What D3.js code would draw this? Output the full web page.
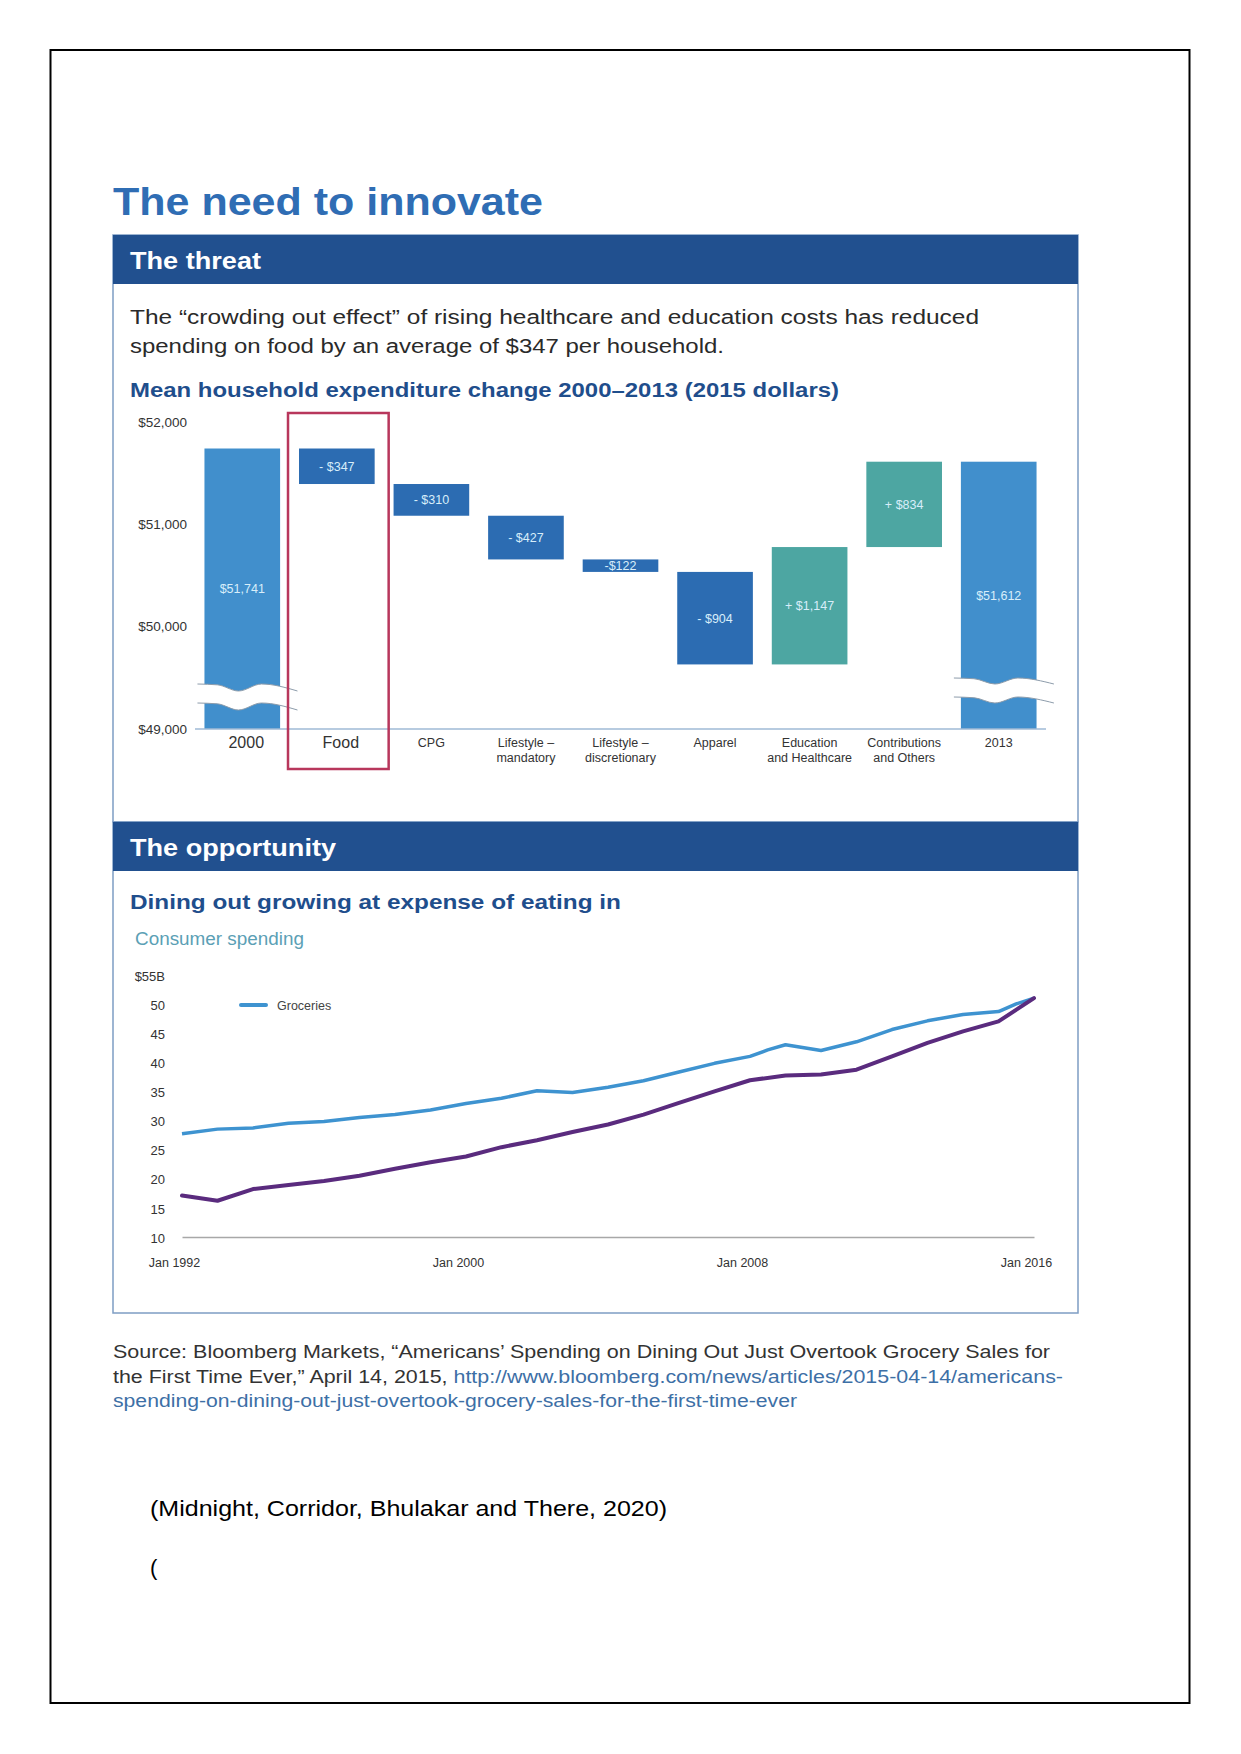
<!DOCTYPE html>
<html><head><meta charset="utf-8">
<script src="https://cdn.jsdelivr.net/npm/d3@7"></script>
<style>body{margin:0;background:#fff} svg{display:block}</style>
</head><body>
<svg id="c" width="1241" height="1754"></svg>
<script>
// ---------- DATA ----------
const categories = ["2000", "Food", "CPG", "Lifestyle – mandatory", "Lifestyle – discretionary", "Apparel", "Education and Healthcare", "Contributions and Others", "2013"];
const categoryLines = [["2000"], ["Food"], ["CPG"], ["Lifestyle –", "mandatory"], ["Lifestyle –", "discretionary"], ["Apparel"], ["Education", "and Healthcare"], ["Contributions", "and Others"], ["2013"]];
const barKinds = ["total", "delta", "delta", "delta", "delta", "delta", "delta", "delta", "total"];
const barValues = [51741, -347, -310, -427, -122, -904, 1147, 834, 51612];
const barLabels = ["$51,741", "- $347", "- $310", "- $427", "-$122", "- $904", "+ $1,147", "+ $834", "$51,612"];
const expenditureTicks = [49000, 50000, 51000, 52000];
const expenditureTickLabels = ["$49,000", "$50,000", "$51,000", "$52,000"];

const spendTicks = [10, 15, 20, 25, 30, 35, 40, 45, 50, 55];
const spendTickLabels = ["10", "15", "20", "25", "30", "35", "40", "45", "50", "$55B"];
const dateTicks = [1992, 2000, 2008, 2016];
const dateTickLabels = ["Jan 1992", "Jan 2000", "Jan 2008", "Jan 2016"];

const groceryYears = [1992, 1993, 1994, 1995, 1996, 1997, 1998, 1999, 2000, 2001, 2002, 2003, 2004, 2005, 2006, 2007, 2008, 2008.5, 2009, 2010, 2011, 2012, 2013, 2014, 2015, 2015.5, 2016];
const groceryValues = [27.9, 28.7, 28.9, 29.7, 30.0, 30.7, 31.2, 32.0, 33.1, 34.0, 35.3, 35.0, 35.9, 37.0, 38.5, 40.0, 41.2, 42.3, 43.2, 42.2, 43.7, 45.8, 47.3, 48.4, 48.9, 50.2, 51.2];
const restaurantYears = [1992, 1993, 1994, 1995, 1996, 1997, 1998, 1999, 2000, 2001, 2002, 2003, 2004, 2005, 2006, 2007, 2008, 2009, 2010, 2011, 2012, 2013, 2014, 2015, 2016];
const restaurantValues = [17.3, 16.4, 18.4, 19.1, 19.8, 20.7, 21.9, 23.0, 24.0, 25.6, 26.8, 28.2, 29.5, 31.2, 33.2, 35.2, 37.1, 37.9, 38.1, 38.9, 41.2, 43.5, 45.5, 47.2, 51.2];
const legendLabels = ["Groceries"];

// ---------- STYLE ----------
const FONT = "'Liberation Sans', Arial, Helvetica, sans-serif";
const C = {
  title: "#2F6DB4", header: "#21508F", sub: "#1F4E8C", boxLine: "#7E9DC3",
  total: "#418FCC", down: "#2C6CB2", up: "#4DA6A2", barText: "#d8eefa",
  red: "#B8375C", grocery: "#3E93D0", restaurant: "#5A2B7E", consumer: "#5BA0B5",
  text: "#2a2a2a", link: "#3D6FA6"
};

const svg = d3.select("#c");
svg.append("rect").attr("width", 1241).attr("height", 1754).attr("fill", "#fff");
svg.append("rect").attr("x", 50.5).attr("y", 50).attr("width", 1139).attr("height", 1653)
  .attr("fill", "none").attr("stroke", "#000").attr("stroke-width", 2);

function txt(g, s, x, y, size, opts = {}) {
  const t = g.append("text").attr("x", x).attr("y", y).attr("font-family", FONT)
    .attr("font-size", size).attr("fill", opts.fill || C.text)
    .attr("font-weight", opts.weight || "normal")
    .attr("text-anchor", opts.anchor || "start").text(s);
  if (opts.len) t.attr("textLength", opts.len).attr("lengthAdjust", "spacingAndGlyphs");
  return t;
}

// Title
txt(svg, "The need to innovate", 113, 215, 38, { fill: C.title, weight: "bold", len: 430 });

// ---------- Box 1 : The threat ----------
svg.append("rect").attr("x", 113).attr("y", 235).attr("width", 965).attr("height", 587)
  .attr("fill", "none").attr("stroke", C.boxLine).attr("stroke-width", 1.5);
svg.append("rect").attr("x", 113).attr("y", 235).attr("width", 965).attr("height", 49).attr("fill", C.header);
txt(svg, "The threat", 130, 269, 23, { fill: "#fff", weight: "bold", len: 131 });
txt(svg, "The \u201Ccrowding out effect\u201D of rising healthcare and education costs has reduced", 130, 324, 20, { len: 849 });
txt(svg, "spending on food by an average of $347 per household.", 130, 353, 20, { len: 594 });
txt(svg, "Mean household expenditure change 2000\u20132013 (2015 dollars)", 130, 397, 20, { fill: C.sub, weight: "bold", len: 709 });

// Waterfall
const y1 = d3.scaleLinear().domain([49000, 52000]).range([729, 422]);
const x1 = d3.scaleBand().domain(categories).range([195, 1046]).paddingInner(0.2).paddingOuter(0.1);
const wf = svg.append("g");

const yAx = wf.append("g").attr("transform", "translate(195,0)")
  .call(d3.axisLeft(y1).tickValues(expenditureTicks).tickSize(0).tickPadding(8)
    .tickFormat((d, i) => expenditureTickLabels[i]));
yAx.select(".domain").remove();
yAx.selectAll("text").attr("font-family", FONT).attr("font-size", 13.5).attr("fill", "#333");

// compute running bars
let running = 0;
const bars = categories.map((c, i) => {
  let lo, hi, kind = barKinds[i];
  if (kind === "total") { running = barValues[i]; lo = 49000; hi = barValues[i]; }
  else { const prev = running; running += barValues[i]; lo = Math.min(prev, running); hi = Math.max(prev, running); }
  const fill = kind === "total" ? C.total : (barValues[i] < 0 ? C.down : C.up);
  return { c, i, lo, hi, kind, fill };
});

wf.selectAll("rect.bar").data(bars).join("rect").attr("class", "bar")
  .attr("x", d => x1(d.c)).attr("width", x1.bandwidth())
  .attr("y", d => y1(d.hi)).attr("height", d => y1(d.lo) - y1(d.hi)).attr("fill", d => d.fill);

wf.selectAll("text.val").data(bars).join("text").attr("class", "val")
  .attr("x", d => x1(d.c) + x1.bandwidth() / 2)
  .attr("y", d => (y1(d.hi) + y1(d.lo)) / 2 + 4.5)
  .attr("text-anchor", "middle").attr("font-family", FONT).attr("font-size", 12.5)
  .attr("fill", C.barText).text(d => barLabels[d.i]);

// break marks on the total bars
const waveShape = [[0, 0], [0.2, 0.12], [0.41, 1], [0.64, 0], [1, 1]];
const waveLine = d3.line().curve(d3.curveMonotoneX);
bars.filter(d => d.kind === "total").forEach((d, k) => {
  const x0 = x1(d.c) - 7, len = 100, amp = k === 0 ? 7 : 6, gap = 19;
  const top = y1(49000) - (k === 0 ? 45 : 51);
  const topPts = waveShape.map(p => [x0 + p[0] * len, top + p[1] * amp]);
  const botPts = waveShape.map(p => [x0 + p[0] * len, top + gap + p[1] * amp]);
  const area = d3.area().curve(d3.curveMonotoneX).x(p => p[0]).y0(p => p[1]).y1(p => p[1] + gap);
  wf.append("path").attr("d", area(topPts)).attr("fill", "#fff");
  wf.append("path").attr("d", waveLine(topPts)).attr("fill", "none").attr("stroke", "#8d9cab").attr("stroke-width", 1);
  wf.append("path").attr("d", waveLine(botPts)).attr("fill", "none").attr("stroke", "#8d9cab").attr("stroke-width", 1);
});

// baseline
wf.append("line").attr("x1", 195).attr("x2", 1046).attr("y1", y1(49000)).attr("y2", y1(49000))
  .attr("stroke", "#9fbad6").attr("stroke-width", 1.5);

// category labels
categories.forEach((c, i) => {
  const big = (c === "2000" || c === "Food");
  const cx = x1(c) + x1.bandwidth() / 2 + (big ? 4 : 0);
  categoryLines[i].forEach((ln, j) => {
    txt(wf, ln, cx, (big ? 748 : 747) + j * 15, big ? 16 : 12.5, { anchor: "middle", fill: "#333" });
  });
});

// red highlight box around Food
const fx = x1("Food");
wf.append("rect").attr("x", fx - 11).attr("y", y1(52000) - 9)
  .attr("width", x1.bandwidth() + 25).attr("height", 769 - (y1(52000) - 9))
  .attr("fill", "none").attr("stroke", C.red).attr("stroke-width", 2.5);

// ---------- Box 2 : The opportunity ----------
svg.append("rect").attr("x", 113).attr("y", 822).attr("width", 965).attr("height", 491)
  .attr("fill", "none").attr("stroke", C.boxLine).attr("stroke-width", 1.5);
svg.append("rect").attr("x", 113).attr("y", 822).attr("width", 965).attr("height", 49).attr("fill", C.header);
txt(svg, "The opportunity", 130, 856, 24, { fill: "#fff", weight: "bold", len: 206 });
txt(svg, "Dining out growing at expense of eating in", 130, 909, 21, { fill: C.sub, weight: "bold", len: 491 });
txt(svg, "Consumer spending", 135, 945, 17.5, { fill: C.consumer, len: 169 });

const y2 = d3.scaleLinear().domain([10, 55]).range([1238, 976]);
const x2 = d3.scaleLinear().domain([1992, 2016]).range([182, 1034]);
const lc = svg.append("g");

const y2Ax = lc.append("g").attr("transform", "translate(173,0)")
  .call(d3.axisLeft(y2).tickValues(spendTicks).tickSize(0).tickPadding(8)
    .tickFormat((d, i) => spendTickLabels[i]));
y2Ax.select(".domain").remove();
y2Ax.selectAll("text").attr("font-family", FONT).attr("font-size", 13).attr("fill", "#333");

const x2Ax = lc.append("g").attr("transform", "translate(0,1237)")
  .call(d3.axisBottom(x2).tickValues(dateTicks).tickSize(0).tickPadding(21)
    .tickFormat((d, i) => dateTickLabels[i]));
x2Ax.select(".domain").attr("stroke", "#a8a8a8").attr("stroke-width", 1.5);
x2Ax.selectAll("text").attr("font-family", FONT).attr("font-size", 12.5).attr("fill", "#333").attr("dx", -8);

const line2 = d3.line().x(d => x2(d[0])).y(d => y2(d[1]));
lc.append("path").datum(groceryYears.map((y, i) => [y, groceryValues[i]]))
  .attr("d", line2).attr("fill", "none").attr("stroke", C.grocery).attr("stroke-width", 3.5)
  .attr("stroke-linejoin", "round");
lc.append("path").datum(restaurantYears.map((y, i) => [y, restaurantValues[i]]))
  .attr("d", line2).attr("fill", "none").attr("stroke", C.restaurant).attr("stroke-width", 4)
  .attr("stroke-linejoin", "round").attr("stroke-linecap", "round");

// legend
lc.append("line").attr("x1", 241).attr("x2", 266).attr("y1", y2(50)).attr("y2", y2(50))
  .attr("stroke", C.grocery).attr("stroke-width", 4).attr("stroke-linecap", "round");
txt(lc, legendLabels[0], 277, y2(50) + 4.5, 12.5, { fill: "#444" });

// ---------- Source & citation ----------
const src = svg.append("g");
txt(src, "Source: Bloomberg Markets, \u201CAmericans\u2019 Spending on Dining Out Just Overtook Grocery Sales for", 113, 1358, 17.5, { fill: "#333", len: 937 });
const l2 = txt(src, "", 113, 1383, 17.5, { fill: "#333", len: 950 });
l2.append("tspan").text("the First Time Ever,\u201D April 14, 2015, ");
l2.append("tspan").attr("fill", C.link).text("http://www.bloomberg.com/news/articles/2015-04-14/americans-");
txt(src, "spending-on-dining-out-just-overtook-grocery-sales-for-the-first-time-ever", 113, 1407, 17.5, { fill: C.link, len: 684 });

txt(svg, "(Midnight, Corridor, Bhulakar and There, 2020)", 150, 1516, 22, { fill: "#000", len: 517 });
txt(svg, "(", 150, 1575, 22, { fill: "#000" });
</script>
</body></html>
